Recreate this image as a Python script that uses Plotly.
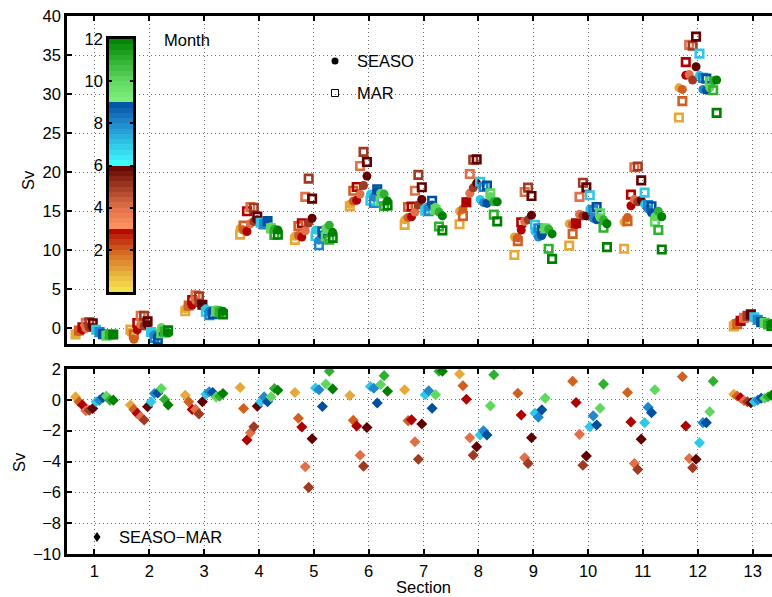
import plotly.graph_objects as go

# ---------------- data ----------------
sections = list(range(1, 14))
months = list(range(1, 13))
section_labels = [str(s) for s in sections]

# SEASO transport per section (rows) and month (columns), Sv
seaso = [
    [-0.6, -0.4, -0.2, 0.0, 0.1, 0.1, -0.3, -0.5, -0.6, -0.7, -0.8, -0.8],
    [-0.5, -1.4, -0.2, 0.5, 0.3, 0.45, -0.6, -0.8, -1.0, 0.1, -0.4, -0.6],
    [2.5, 2.8, 3.0, 3.6, 3.2, 2.9, 2.5, 2.2, 2.3, 2.4, 2.3, 2.2],
    [12.8, 12.6, 12.4, 13.4, 13.7, 13.9, 13.4, 13.5, 13.6, 13.0, 12.7, 12.6],
    [11.8, 11.9, 11.7, 12.5, 13.5, 14.1, 12.6, 11.3, 12.0, 12.8, 13.2, 12.3],
    [15.9, 16.3, 16.4, 17.2, 18.3, 19.5, 17.2, 16.8, 17.6, 17.3, 17.2, 16.3],
    [13.9, 14.2, 14.3, 14.9, 15.8, 16.5, 15.4, 15.6, 15.8, 15.5, 14.9, 14.4],
    [15.0, 15.3, 16.2, 17.3, 18.0, 18.6, 16.5, 16.1, 16.0, 16.9, 16.2, 16.2],
    [11.7, 11.6, 12.6, 13.7, 13.9, 14.5, 12.4, 11.7, 11.9, 12.9, 12.7, 12.1],
    [13.4, 13.3, 13.3, 14.6, 14.4, 14.4, 15.3, 14.1, 13.9, 14.2, 13.9, 13.4],
    [13.6, 14.2, 15.7, 16.5, 16.2, 16.4, 15.9, 15.3, 14.8, 14.3, 15.0, 14.3],
    [30.8, 30.6, 32.4, 32.5, 31.8, 33.5, 32.4, 30.6, 30.5, 30.8, 31.7, 31.8],
    [0.6, 0.8, 1.1, 1.3, 1.5, 1.6, 1.3, 1.1, 0.9, 0.8, 0.7, 0.6],
]

# MAR transport per section (rows) and month (columns), Sv
mar = [
    [-0.79, -0.27, 0.14, 0.71, 0.77, 0.66, -0.17, -0.48, -0.75, -0.94, -0.78, -0.78],
    [-0.16, -0.78, 0.68, 1.6, 1.61, 0.9, -0.47, -1.21, -1.45, -0.63, -0.42, -0.26],
    [2.2, 2.93, 3.62, 4.22, 4.12, 3.03, 2.13, 1.68, 1.83, 2.21, 2.06, 1.79],
    [12.0, 13.16, 15.0, 15.53, 15.44, 14.31, 13.53, 13.31, 13.73, 12.81, 11.97, 11.98],
    [11.33, 13.1, 13.46, 16.84, 19.18, 16.62, 11.83, 10.65, 12.43, 11.77, 11.35, 11.59],
    [15.62, 17.63, 18.1, 20.8, 22.6, 21.3, 16.34, 16.05, 17.81, 16.31, 15.63, 15.74],
    [13.25, 15.55, 15.6, 17.62, 19.65, 18.07, 15.07, 15.01, 16.34, 15.17, 13.05, 12.55],
    [13.33, 14.39, 16.16, 19.76, 21.59, 21.64, 18.78, 18.1, 18.28, 17.29, 14.57, 13.7],
    [9.4, 11.17, 13.58, 17.46, 18.03, 16.96, 13.27, 12.83, 12.55, 12.79, 10.2, 8.9],
    [10.6, 12.1, 13.47, 16.84, 18.64, 18.05, 17.04, 15.14, 15.53, 14.74, 12.88, 10.4],
    [10.2, 13.72, 17.13, 20.63, 20.72, 18.95, 17.38, 15.78, 15.63, 13.65, 12.6, 10.1],
    [27.0, 29.1, 34.1, 36.3, 36.2, 37.36, 35.18, 32.08, 31.98, 31.57, 30.5, 27.6],
    [0.24, 0.55, 0.96, 1.36, 1.62, 1.79, 1.42, 1.11, 0.8, 0.7, 0.5, 0.3],
]

top_yticks = [0, 5, 10, 15, 20, 25, 30, 35, 40]
bottom_yticks = [-10, -8, -6, -4, -2, 0, 2]
cbar_ticks = [2, 4, 6, 8, 10, 12]

# ---------------- colormap (4 segments of 3 months each) ----------------
cmap_segments = [
    [(245, 232, 80), (230, 168, 58), (208, 96, 32), (176, 0, 0)],
    [(255, 150, 100), (224, 112, 74), (160, 58, 34), (96, 0, 0)],
    [(64, 255, 255), (48, 200, 232), (32, 136, 204), (0, 80, 160)],
    [(128, 240, 128), (96, 216, 96), (48, 176, 48), (0, 128, 0)],
]


def rgb(c):
    return "rgb(%d,%d,%d)" % tuple(int(round(v)) for v in c)


def cmap(v):
    seg = min(int(v // 3), 3)
    t = v - 3 * seg
    i = min(int(t), 2)
    f = t - i
    a = cmap_segments[seg][i]
    b = cmap_segments[seg][i + 1]
    return tuple(a[k] + (b[k] - a[k]) * f for k in range(3))


month_colors = [rgb(cmap_segments[(m - 1) // 3][(m - 1) % 3 + 1]) for m in months]

FONT = "Liberation Sans, Arial, Helvetica, sans-serif"
FS = 16.5

W, H = 772, 597
L, R, T, B = 67, 0, 16, 43
PW, PH = W - L - R, H - T - B
xr = [0.5, 0.5 + PW / 54.85]


def px2x(px):
    return (px - L) / PW


def py2y(py):
    return (H - B - py) / PH


fig = go.Figure()

# top panel: SEASO circles and MAR squares
for m in months:
    xs = [s + (m - 6.5) * 0.0625 for s in sections]
    fig.add_trace(go.Scatter(
        x=xs, y=[seaso[s - 1][m - 1] for s in sections], mode="markers",
        marker=dict(symbol="circle", size=9, color=month_colors[m - 1],
                    line=dict(width=0)),
        xaxis="x", yaxis="y", showlegend=False, hoverinfo="skip"))
    fig.add_trace(go.Scatter(
        x=xs, y=[mar[s - 1][m - 1] for s in sections], mode="markers",
        marker=dict(symbol="square-open", size=7.5, color=month_colors[m - 1],
                    line=dict(width=2.6, color=month_colors[m - 1])),
        xaxis="x", yaxis="y", showlegend=False, hoverinfo="skip"))

# bottom panel: SEASO - MAR diamonds
for m in months:
    xs = [s + (m - 6.5) * 0.0625 for s in sections]
    diff = [seaso[s - 1][m - 1] - mar[s - 1][m - 1] for s in sections]
    fig.add_trace(go.Scatter(
        x=xs, y=diff, mode="markers",
        marker=dict(symbol="diamond", size=8.5, color=month_colors[m - 1],
                    line=dict(width=0)),
        xaxis="x2", yaxis="y2", showlegend=False, hoverinfo="skip"))

# embedded colour bar (heatmap on its own small axes)
nb = 48
centers = [(i + 0.5) * 12 / nb for i in range(nb)]
cs = []
for i in range(nb):
    c = rgb(cmap(centers[i]))
    cs.append([i / nb, c])
    cs.append([(i + 1) / nb, c])
fig.add_trace(go.Heatmap(
    z=[[i] for i in range(nb)], x=[0], y=centers, colorscale=cs,
    zmin=-0.5, zmax=nb - 0.5, showscale=False, xaxis="x3", yaxis="y3",
    hoverinfo="skip"))

grid = dict(showgrid=True, gridcolor="#707070", gridwidth=1, griddash="1px,3px")
axline = dict(showline=True, linecolor="black", linewidth=2.5,
              ticks="inside", ticklen=5, tickwidth=2, tickcolor="black")
tickfont = dict(family=FONT, size=FS, color="black")

top_dom = [py2y(344), 1.0]
bot_dom = [0.0, py2y(369)]

fig.update_layout(
    width=W, height=H,
    margin=dict(l=L, r=R, t=T, b=B),
    paper_bgcolor="white", plot_bgcolor="white",
    font=dict(family=FONT, size=FS, color="black"),
    xaxis=dict(domain=[0, 1], anchor="y", range=xr, tickvals=sections,
               showticklabels=False, mirror="ticks", zeroline=False, **grid, **axline),
    yaxis=dict(domain=top_dom, anchor="x", range=[-2, 40], tickvals=top_yticks,
               tickfont=tickfont, zeroline=False, **grid, **axline),
    xaxis2=dict(domain=[0, 1], anchor="y2", range=xr, tickvals=sections,
                ticktext=section_labels, tickfont=tickfont, mirror="ticks",
                zeroline=False, **grid, **axline),
    yaxis2=dict(domain=bot_dom, anchor="x2", range=[-10, 2], tickvals=bottom_yticks,
                tickfont=tickfont, zeroline=False, **grid, **axline),
    xaxis3=dict(domain=[px2x(109), px2x(133)], anchor="y3", range=[-0.5, 0.5],
                showticklabels=False, showgrid=False, zeroline=False,
                showline=True, linecolor="black", linewidth=2.5, mirror=True,
                ticks=""),
    yaxis3=dict(domain=[py2y(292), py2y(39)], anchor="x3", range=[0, 12],
                tickvals=cbar_ticks, tickfont=tickfont, showgrid=False,
                zeroline=False, showline=True, linecolor="black", linewidth=2.5,
                mirror="ticks", ticks="inside", ticklen=3, tickwidth=1.5,
                tickcolor="black"),
)

ann = []
ann.append(dict(x=px2x(187), y=py2y(40), xref="paper", yref="paper", text="Month",
                showarrow=False, xanchor="center", yanchor="middle"))
ann.append(dict(x=px2x(355), y=py2y(61), xref="paper", yref="paper", text="SEASO",
                showarrow=False, xanchor="left", yanchor="middle"))
ann.append(dict(x=px2x(355), y=py2y(93), xref="paper", yref="paper", text="MAR",
                showarrow=False, xanchor="left", yanchor="middle"))
ann.append(dict(x=px2x(117), y=py2y(537), xref="paper", yref="paper", text="SEASO\u2212MAR",
                showarrow=False, xanchor="left", yanchor="middle"))
ann.append(dict(x=7, y=py2y(587), xref="x2", yref="paper", text="Section",
                showarrow=False, xanchor="center", yanchor="middle"))
ann.append(dict(x=px2x(28), y=py2y(180), xref="paper", yref="paper", text="Sv",
                textangle=-90, showarrow=False, xanchor="center", yanchor="middle"))
ann.append(dict(x=px2x(19), y=py2y(462), xref="paper", yref="paper", text="Sv",
                textangle=-90, showarrow=False, xanchor="center", yanchor="middle"))
fig.update_layout(annotations=ann)

# legend glyphs
shapes = []
r = 3.5
shapes.append(dict(type="circle", xref="paper", yref="paper",
                   x0=px2x(335 - r), x1=px2x(335 + r), y0=py2y(61 + r), y1=py2y(61 - r),
                   fillcolor="black", line=dict(width=0)))
s = 3.5
shapes.append(dict(type="rect", xref="paper", yref="paper",
                   x0=px2x(335 - s), x1=px2x(335 + s), y0=py2y(93 + s), y1=py2y(93 - s),
                   fillcolor="rgba(0,0,0,0)", line=dict(width=1, color="black")))
cx, cy = 97, 537
path = "M %f %f L %f %f L %f %f L %f %f Z" % (
    px2x(cx), py2y(cy - 5), px2x(cx + 3.5), py2y(cy), px2x(cx), py2y(cy + 5),
    px2x(cx - 3.5), py2y(cy))
shapes.append(dict(type="path", xref="paper", yref="paper", path=path,
                   fillcolor="black", line=dict(width=0)))
fig.update_layout(shapes=shapes)

fig.write_html("out.html")
